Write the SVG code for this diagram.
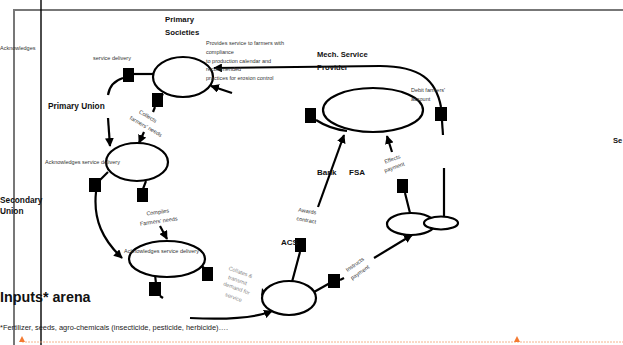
<svg xmlns="http://www.w3.org/2000/svg" width="623" height="345" viewBox="0 0 623 345">
<defs>
<marker id="arr" viewBox="0 0 10 10" refX="9" refY="5" markerWidth="4" markerHeight="4" orient="auto" markerUnits="strokeWidth">
<path d="M0,0 L10,5 L0,10 z" fill="#000"/>
</marker>
<style>
.ln{fill:none;stroke:#000;stroke-width:2.2}
.ar{fill:none;stroke:#000;stroke-width:2.2;marker-end:url(#arr)}
.el{fill:#fff;stroke:#000;stroke-width:2.2}
.sq{fill:#000}
.b{font-family:"Liberation Sans",Arial,sans-serif;font-weight:bold;fill:#111}
.s{font-family:"Liberation Sans",Arial,sans-serif;font-size:5.5px;fill:#333}
.g{font-family:"Liberation Sans",Arial,sans-serif;font-size:5.5px;fill:#888}
</style>
</defs>
<rect width="623" height="345" fill="#fff"/>
<g id="frame">
<path d="M14,345 L14,10 L623,10" fill="none" stroke="#777" stroke-width="2"/>
<line x1="41" y1="0" x2="41" y2="345" stroke="#000" stroke-width="1.4"/>
<line x1="22" y1="342" x2="623" y2="342" stroke="#f4a070" stroke-width="0.8" stroke-dasharray="2,1"/>
<path d="M19,342 L22,336 L25,342 z" fill="#f47a30"/>
<path d="M514,342 L517,336 L520,342 z" fill="#f47a30"/>
</g>
<g id="connectors">
<path class="ln" d="M153,74 L134,74"/>
<path class="ln" d="M123,78 Q110,82 108,95"/>
<path class="ar" d="M108,118 L110,146"/>
<path class="ln" d="M163,94 L159,100"/>
<path class="ln" d="M155,107 L153,112"/>
<path class="ar" d="M144,132 L139,143"/>
<path class="ln" d="M108,172 L100,180"/>
<path class="ar" d="M96,192 C93,220 103,240 122,258"/>
<path class="ln" d="M146,181 L143,189"/>
<path class="ar" d="M160,226 L167,239"/>
<path class="ln" d="M202,266 L206,270"/>
<path class="ln" d="M155,274 L156,284"/>
<path class="ln" d="M160,296 L163,298"/>
<path class="ar" d="M190,318 C230,320 255,318 272,311"/>
<path d="M262,288 L266,293 L261,296 z" fill="#000"/>
<path class="ln" d="M292,282 L300,252"/>
<path class="ar" d="M318,207 L344,135"/>
<path class="ln" d="M314,292 L330,283"/>
<path class="ln" d="M340,280 L344,278"/>
<path class="ar" d="M374,258 L412,235"/>
<path class="ln" d="M405,193 L410,213"/>
<path class="ar" d="M392,152 L387,136"/>
<path class="ln" d="M444,168 L444,217"/>
<path class="ln" d="M443,135 L442,121"/>
<path class="ar" d="M441,107 C436,80 420,66 380,66 L214,68"/>
<path class="ar" d="M232,93 L211,86"/>
<path class="ln" d="M316,120 Q330,129 347,131"/>
<rect class="sq" x="123" y="68" width="11" height="14"/>
<rect class="sq" x="152" y="93" width="11" height="14"/>
<rect class="sq" x="89" y="178" width="12" height="14"/>
<rect class="sq" x="137" y="188" width="11" height="14"/>
<rect class="sq" x="202" y="267" width="11" height="14"/>
<rect class="sq" x="149" y="282" width="12" height="14"/>
<rect class="sq" x="295" y="238" width="11" height="14"/>
<rect class="sq" x="328" y="274" width="12" height="14"/>
<rect class="sq" x="397" y="179" width="11" height="14"/>
<rect class="sq" x="435" y="107" width="12" height="14"/>
<rect class="sq" x="305" y="108" width="11" height="15"/>
</g>
<g id="primary-societies">
<ellipse class="el" cx="183" cy="77" rx="30" ry="20"/>
<text class="b" x="165" y="22" font-size="7.8">Primary</text>
<text class="b" x="165" y="35" font-size="7.8">Societies</text>
</g>
<g id="primary-union">
<ellipse class="el" cx="137" cy="162" rx="31" ry="19"/>
<text class="b" x="48" y="109" font-size="8.3">Primary Union</text>
</g>
<g id="secondary-union">
<ellipse class="el" cx="167" cy="259" rx="38" ry="18"/>
<text class="b" x="0" y="203" font-size="8.3">Secondary</text>
<text class="b" x="0" y="214" font-size="8.3">Union</text>
</g>
<g id="acs">
<ellipse class="el" cx="289" cy="298" rx="27" ry="17"/>
<text class="b" x="281" y="245" font-size="8">ACS</text>
</g>
<g id="bank-fsa">
<ellipse class="el" cx="373" cy="110" rx="50" ry="22"/>
<text class="b" x="317" y="175" font-size="8">Bank</text>
<text class="b" x="349" y="175" font-size="8">FSA</text>
</g>
<g id="mech-service-provider">
<ellipse class="el" cx="411" cy="224" rx="24" ry="11"/>
<ellipse class="el" cx="441" cy="223" rx="17" ry="6.5"/>
<text class="b" x="317" y="57" font-size="7.6">Mech. Service</text>
<text class="b" x="317" y="70" font-size="7.6">Provider</text>
</g>
<g id="labels">
<text class="s" x="0" y="50" font-size="4.8">Acknowledges</text>
<text class="s" x="93" y="60">service delivery</text>
<text class="s" x="206" y="45">Provides service to farmers with</text>
<text class="s" x="206" y="54">compliance</text>
<text class="s" x="206" y="63">to production calendar    and</text>
<text class="s" x="206" y="71">recommended</text>
<text class="s" x="206" y="80">practices for erosion control</text>
<text class="s" x="411" y="92">Debit farmers'</text>
<text class="s" x="411" y="101">account</text>
<text class="s" text-anchor="middle" transform="translate(147,118) rotate(30)">Collects</text>
<text class="s" text-anchor="middle" transform="translate(145,128) rotate(30)">farmers' needs</text>
<text class="s" x="45" y="164">Acknowledges service delivery</text>
<text class="s" text-anchor="middle" transform="translate(158,214) rotate(-8)">Compiles</text>
<text class="s" text-anchor="middle" transform="translate(159,223) rotate(-8)">Farmers' needs</text>
<text class="s" x="124" y="253">Acknowledges service delivery</text>
<text class="g" text-anchor="middle" transform="translate(240,274) rotate(20)">Collates &amp;</text>
<text class="g" text-anchor="middle" transform="translate(237,282) rotate(20)">transmit</text>
<text class="g" text-anchor="middle" transform="translate(236,290) rotate(20)">demand for</text>
<text class="g" text-anchor="middle" transform="translate(233,299) rotate(20)">service</text>
<text class="s" text-anchor="middle" transform="translate(307,213) rotate(10)">Awards</text>
<text class="s" text-anchor="middle" transform="translate(306,222) rotate(10)">contract</text>
<text class="s" text-anchor="middle" transform="translate(393,161) rotate(-20)">Effects</text>
<text class="s" text-anchor="middle" transform="translate(395,169) rotate(-20)">payment</text>
<text class="s" text-anchor="middle" transform="translate(356,266) rotate(-35)">Instructs</text>
<text class="s" text-anchor="middle" transform="translate(361,274) rotate(-35)">payment</text>
<text class="b" x="613" y="143" font-size="7.6">Se</text>
<text class="b" x="0" y="302" font-size="14.3">Inputs* arena</text>
<text x="0" y="330" font-family="'Liberation Sans',Arial,sans-serif" font-size="7.2" fill="#222" textLength="228" lengthAdjust="spacingAndGlyphs">*Fertilizer, seeds, agro-chemicals (insecticide, pesticide, herbicide)….</text>
</g>
</svg>
